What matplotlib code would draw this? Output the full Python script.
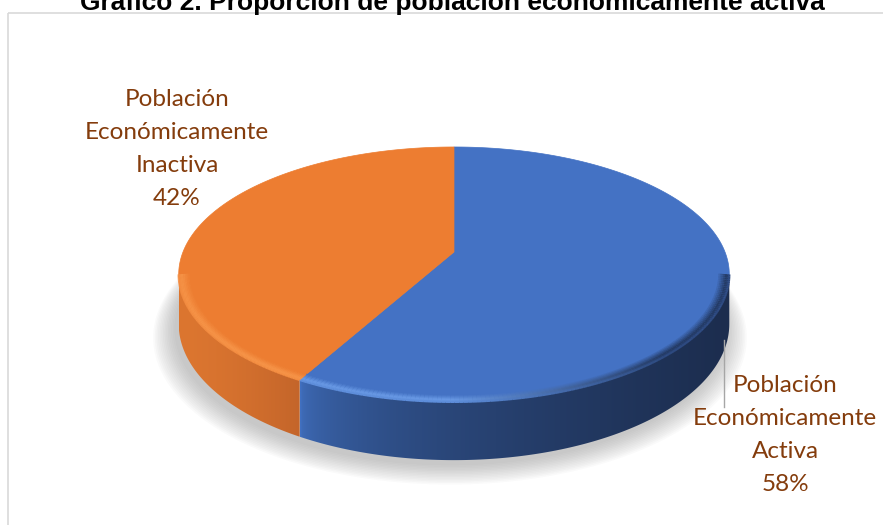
import numpy as np
import matplotlib.pyplot as plt
from matplotlib.patches import Polygon, Rectangle
from matplotlib.colors import to_rgb

# data
labels = ['Población\nEconómicamente\nActiva', 'Población\nEconómicamente\nInactiva']
values = [58, 42]
top_colors = ['#4472C4', '#ED7D31']
title = 'Gráfico 2. Proporción de población económicamente activa'

W, H_FIG = 883, 525
# perspective pie geometry (pixels)
CX, CY = 454, 252      # projected pie centre
A, B = 271, 123.5      # radii
T = 0.176              # perspective factor
DEPTH = 48             # thickness


def rim(phi, drop=0.0, s=1.0):
    sn, c = np.sin(phi), np.cos(phi)
    den = 1 + T * c
    return CX + s * A * sn / den, CY - s * B * c / den + drop / den


def mix(c1, c2, f):
    c1, c2 = np.array(to_rgb(c1)), np.array(to_rgb(c2))
    f = np.clip(f, 0, 1)
    return tuple(c1 + (c2 - c1) * f)


def side_color(i, f):
    if i == 0:
        return mix('#4170C0', '#1C2D4E', f ** 0.45)
    return mix('#DC7630', '#C4652A', f ** 1.5)


fig = plt.figure(figsize=(W / 100, H_FIG / 100), dpi=100)
ax = fig.add_axes([0, 0, 1, 1])
ax.axis('off')

# chart border
ax.add_patch(Rectangle((8, 13), 2000, 2000, fill=False, ec='#D9D9D9', lw=1.2, zorder=0))

# soft shadow under the pie
full = np.linspace(0, 2 * np.pi, 300)
bx, by = rim(full, DEPTH)
mx, my = bx.mean(), by.mean()
for k in range(14):
    s = 1.0 + 0.006 * k
    ax.add_patch(Polygon(np.column_stack([mx + (bx - mx) * s - 4, my + (by - my) * s + 5 + k * 0.6]),
                         closed=True, fc='#7F7F7F', ec='none', alpha=0.035, zorder=1))

fracs = np.array(values) / sum(values)
bounds = np.concatenate([[0], np.cumsum(fracs)]) * 2 * np.pi
phi_r = np.arccos(-T)
phi_l = 2 * np.pi - phi_r

# side walls, gradient images clipped to each wall
for i in range(len(values)):
    p0, p1 = max(bounds[i], phi_r), min(bounds[i + 1], phi_l)
    if p1 <= p0:
        continue
    seg = np.linspace(p0, p1, 200)
    tx, ty = rim(seg)
    bx2, by2 = rim(seg[::-1], DEPTH)
    poly = Polygon(np.column_stack([np.r_[tx, bx2], np.r_[ty, by2]]),
                   closed=True, fc='none', ec='none', zorder=2)
    ax.add_patch(poly)
    x0, x1 = min(tx.min(), bx2.min()), max(tx.max(), bx2.max())
    y0, y1 = ty.min() - 2, by2.max() + 2
    fx = np.linspace(0, 1, 256)
    grad = np.array([side_color(i, f) for f in fx])[None, :, :]
    im = ax.imshow(grad, extent=(x0, x1, y1, y0), aspect='auto', zorder=2,
                   interpolation='bilinear')
    im.set_clip_path(poly)

# top faces
for i in range(len(values)):
    seg = np.linspace(bounds[i], bounds[i + 1], 300)
    tx, ty = rim(seg)
    ax.add_patch(Polygon(np.column_stack([np.r_[CX, tx], np.r_[CY, ty]]),
                         closed=True, fc=top_colors[i], ec=top_colors[i], lw=0.5, zorder=3))

# bevel along the front rim
x_b0 = rim(bounds[1])[0]
x_r = rim(phi_r)[0]
for i in range(len(values)):
    p0, p1 = max(bounds[i], phi_r), min(bounds[i + 1], phi_l)
    seg = np.linspace(p0, p1, 140)
    for a0, a1 in zip(seg[:-1], seg[1:]):
        xm = rim(np.array([a0, a1]))[0].mean()
        if i == 0:
            f = (xm - x_b0) / (x_r - x_b0)
            edge = mix('#6A9BE6', '#22375F', (f - 0.35) / 0.5)
        else:
            edge = '#F7964A'
        for s in np.linspace(0.958, 1.0, 8):
            w = 1 - abs(s - 0.99) / 0.032
            tx, ty = rim(np.array([a0, a1]), s=s)
            ax.plot(tx, ty, color=mix(top_colors[i], edge, w), lw=1.6,
                    solid_capstyle='butt', zorder=4)

# title
ax.text(452, 10, title, ha='center', va='baseline', fontsize=19,
        fontweight='bold', family='Liberation Sans', color='black', zorder=6)

# data labels
lab_pos = [(785, 435), (177, 149)]
for lab, v, (x, y) in zip(labels, values, lab_pos):
    ax.text(x, y, f'{lab}\n{v}%', ha='center', va='center', fontsize=17.5,
            family='Lato', color='#843C0C', linespacing=1.7, zorder=6)

# leader line
ax.plot([724, 724], [340, 407], color='#A6A6A6', lw=1, zorder=5)

ax.set_xlim(0, W)
ax.set_ylim(H_FIG, 0)
fig.savefig('out.png', dpi=100)
